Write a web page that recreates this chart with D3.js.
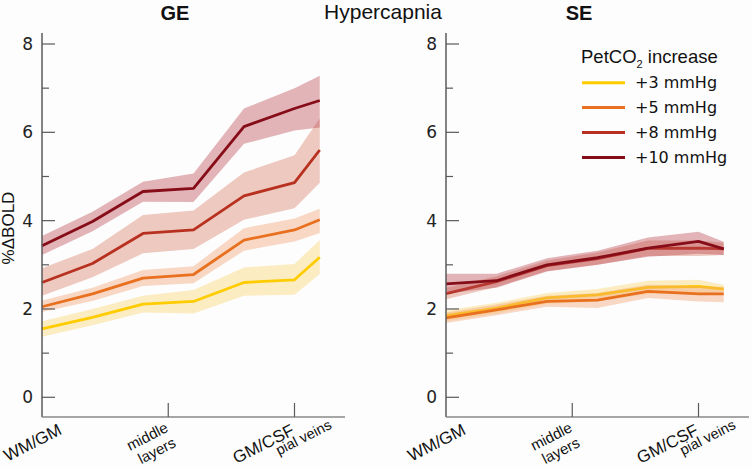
<!DOCTYPE html>
<html><head><meta charset="utf-8">
<script src="https://cdn.jsdelivr.net/npm/d3@7"></script>
<style>body{margin:0;background:#fdfdfd}svg{display:block}</style>
</head><body>
<svg id="c" width="752" height="468"></svg>
<script>
// ---- data ----
const positions = [0, 1, 2, 3, 4, 5, 5.5];
const seriesNames = ["+3 mmHg", "+5 mmHg", "+8 mmHg", "+10 mmHg"];
const seriesColors = ["#ffcc00", "#e8701e", "#b8301f", "#860c18"];
const bandColors = ["#fbd36a", "#f0a070", "#d77a62", "#b9464f"];
const yTicks = [0, 2, 4, 6, 8];
const yMinor = [1, 3, 5, 7];

// GE
const ge3 = [1.55, 1.81, 2.11, 2.17, 2.60, 2.66, 3.17];
const ge3lo = [1.37, 1.63, 1.92, 1.90, 2.30, 2.32, 2.79];
const ge3hi = [1.72, 2.00, 2.30, 2.43, 2.94, 3.02, 3.56];
const ge5 = [2.05, 2.34, 2.70, 2.78, 3.56, 3.79, 4.02];
const ge5lo = [1.93, 2.18, 2.52, 2.58, 3.32, 3.53, 3.72];
const ge5hi = [2.19, 2.48, 2.88, 2.97, 3.83, 4.05, 4.27];
const ge8 = [2.60, 3.03, 3.71, 3.79, 4.56, 4.86, 5.60];
const ge8lo = [2.30, 2.72, 3.26, 3.36, 4.02, 4.28, 4.86];
const ge8hi = [2.92, 3.36, 4.13, 4.23, 5.09, 5.48, 6.32];
const ge10 = [3.43, 3.98, 4.66, 4.73, 6.13, 6.54, 6.72];
const ge10lo = [3.22, 3.76, 4.43, 4.42, 5.74, 6.04, 6.11];
const ge10hi = [3.65, 4.20, 4.88, 5.07, 6.54, 7.00, 7.28];

// SE
const se3 = [1.85, 2.02, 2.25, 2.32, 2.49, 2.51, 2.45];
const se3lo = [1.72, 1.90, 2.12, 2.18, 2.34, 2.35, 2.38];
const se3hi = [1.97, 2.14, 2.36, 2.45, 2.64, 2.66, 2.55];
const se5 = [1.80, 1.98, 2.17, 2.20, 2.40, 2.34, 2.34];
const se5lo = [1.68, 1.86, 2.05, 2.02, 2.25, 2.17, 2.15];
const se5hi = [1.92, 2.10, 2.30, 2.36, 2.55, 2.52, 2.50];
const se8 = [2.35, 2.62, 2.98, 3.14, 3.37, 3.38, 3.36];
const se8lo = [2.22, 2.50, 2.86, 3.00, 3.20, 3.20, 3.22];
const se8hi = [2.48, 2.74, 3.10, 3.28, 3.55, 3.55, 3.50];
const se10 = [2.57, 2.64, 3.00, 3.16, 3.38, 3.53, 3.36];
const se10lo = [2.35, 2.48, 2.85, 3.00, 3.18, 3.25, 3.22];
const se10hi = [2.80, 2.80, 3.15, 3.32, 3.62, 3.75, 3.52];

const panels = [
  {title: "GE", x0: 42, series: [[ge3, ge3lo, ge3hi], [ge5, ge5lo, ge5hi], [ge8, ge8lo, ge8hi], [ge10, ge10lo, ge10hi]]},
  {title: "SE", x0: 446, series: [[se3, se3lo, se3hi], [se5, se5lo, se5hi], [se8, se8lo, se8hi], [se10, se10lo, se10hi]]}
];

const svg = d3.select("#c");
const axisColor = "#5a5a5a";
const y = d3.scaleLinear().domain([0, 8]).range([397.3, 44]);
const axisY = 417;

panels.forEach((p, pi) => {
  const x = d3.scaleLinear().domain([0, 6]).range([p.x0, p.x0 + 303]);
  const g = svg.append("g");

  // bands and lines
  p.series.forEach((s, si) => {
    const [m, lo, hi] = s;
    const pts = positions.map((pos, i) => ({x: pos, m: m[i], lo: lo[i], hi: hi[i]}));
    g.append("path").datum(pts)
      .attr("d", d3.area().x(d => x(d.x)).y0(d => y(d.lo)).y1(d => y(d.hi)))
      .attr("fill", bandColors[si]).attr("fill-opacity", 0.4);
    g.append("path").datum(pts)
      .attr("d", d3.line().x(d => x(d.x)).y(d => y(d.m)))
      .attr("fill", "none").attr("stroke", seriesColors[si]).attr("stroke-width", 2.8)
      .attr("stroke-linejoin", "round");
  });

  // y axis
  g.append("line").attr("x1", p.x0).attr("x2", p.x0).attr("y1", 33).attr("y2", axisY)
    .attr("stroke", axisColor).attr("stroke-width", 1.5);
  yTicks.forEach(t => {
    g.append("line").attr("x1", p.x0).attr("x2", p.x0 + 13).attr("y1", y(t)).attr("y2", y(t))
      .attr("stroke", axisColor).attr("stroke-width", 1.2);
    g.append("text").attr("x", p.x0 - 9).attr("y", y(t)).attr("dy", "0.36em")
      .attr("text-anchor", "end").attr("font-family", "DejaVu Sans").attr("font-size", 17)
      .attr("fill", "#222").text(t);
  });
  yMinor.forEach(t => {
    g.append("line").attr("x1", p.x0).attr("x2", p.x0 + 7).attr("y1", y(t)).attr("y2", y(t))
      .attr("stroke", axisColor).attr("stroke-width", 1.2);
  });

  // x axis
  g.append("line").attr("x1", p.x0).attr("x2", p.x0 + 303).attr("y1", axisY).attr("y2", axisY)
    .attr("stroke", "#888").attr("stroke-width", 1.6);
  [2.5, 5].forEach(t => {
    g.append("line").attr("x1", x(t)).attr("x2", x(t)).attr("y1", axisY).attr("y2", axisY - 14)
      .attr("stroke", axisColor).attr("stroke-width", 1.2);
  });

  const lab = (tx, ty, lines, size) => {
    const t = g.append("text").attr("transform", `translate(${tx},${ty}) rotate(-27)`)
      .attr("text-anchor", "end").attr("font-family", "Liberation Sans, Arial, sans-serif")
      .attr("font-size", size).attr("fill", "#111");
    lines.forEach((l, i) => t.append("tspan").attr("x", 0).attr("y", i * 17).text(l));
  };
  lab(x(0) + 21, 433.5, ["WM/GM"], 17);
  lab(x(2.5) + 1, 431, ["middle", "layers"], 15);
  lab(x(5) + 1, 434, ["GM/CSF"], 17);
  lab(x(5.5) + 13, 428, ["pial veins"], 14.5);

  // title
  g.append("text").attr("x", p.x0 + 133).attr("y", 20).attr("text-anchor", "middle")
    .attr("font-family", "Liberation Sans, Arial, sans-serif").attr("font-weight", "bold")
    .attr("font-size", 20).attr("fill", "#111").text(p.title);
});

svg.append("text").attr("x", 383).attr("y", 18.5).attr("text-anchor", "middle")
  .attr("font-family", "Liberation Sans, Arial, sans-serif").attr("font-size", 21)
  .attr("fill", "#111").text("Hypercapnia");

svg.append("text").attr("transform", "translate(14,228) rotate(-90)").attr("text-anchor", "middle")
  .attr("font-family", "Liberation Sans, Arial, sans-serif").attr("font-size", 17)
  .attr("fill", "#111").text("%ΔBOLD");

// legend
const leg = svg.append("g");
const lt = leg.append("text").attr("x", 581).attr("y", 63)
  .attr("font-family", "Liberation Sans, Arial, sans-serif").attr("font-size", 18.5).attr("fill", "#111");
lt.append("tspan").text("PetCO");
lt.append("tspan").attr("font-size", 11).attr("dy", 5).text("2");
lt.append("tspan").attr("dy", -5).text(" increase");
seriesNames.forEach((n, i) => {
  const yy = 82.7 + i * 24.9;
  leg.append("line").attr("x1", 582).attr("x2", 625).attr("y1", yy).attr("y2", yy)
    .attr("stroke", seriesColors[i]).attr("stroke-width", 3);
  leg.append("text").attr("x", 635).attr("y", yy).attr("dy", "0.36em")
    .attr("font-family", "DejaVu Sans").attr("font-size", 16).attr("fill", "#111").text(n);
});
</script>
</body></html>
